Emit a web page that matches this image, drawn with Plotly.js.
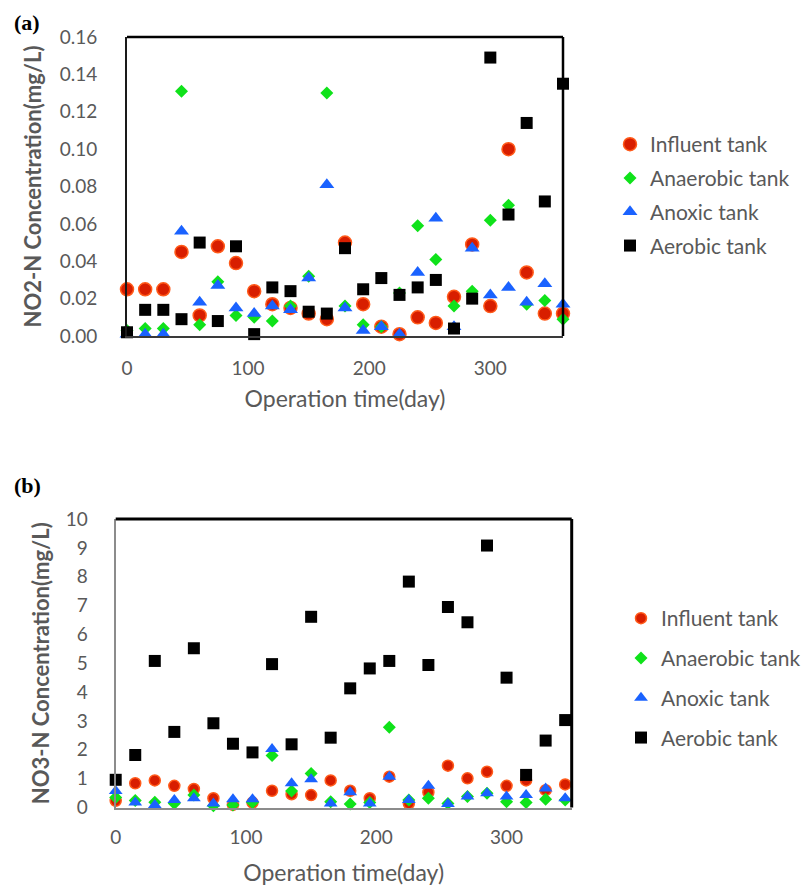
<!DOCTYPE html>
<html>
<head>
<meta charset="utf-8">
<script src="https://cdn.plot.ly/plotly-3.0.1.min.js"></script>
<style>html,body{margin:0;padding:0;background:#fff;}#chart{width:804px;height:890px;}</style>
</head>
<body>
<div id="chart"></div>
<script>
// ---------- Data ----------
var seriesNames = ["Influent tank", "Anaerobic tank", "Anoxic tank", "Aerobic tank"];

// Panel (a): NO2-N, sampled every 15 days, day 0 .. 360
var daysA = [0,15,30,45,60,75,90,105,120,135,150,165,180,195,210,225,240,255,270,285,300,315,330,345,360];
var no2Influent  = [0.025,0.025,0.025,0.045,0.011,0.048,0.039,0.024,0.017,0.015,0.012,0.009,0.050,0.017,0.005,0.001,0.010,0.007,0.021,0.049,0.016,0.100,0.034,0.012,0.012];
var no2Anaerobic = [0.003,0.004,0.004,0.131,0.006,0.029,0.011,0.010,0.008,0.016,0.032,0.130,0.016,0.006,0.005,0.023,0.059,0.041,0.016,0.024,0.062,0.070,0.017,0.019,0.009];
var no2Anoxic    = [0.001,0.001,0.001,0.056,0.018,0.027,0.015,0.012,0.016,0.014,0.031,0.081,0.015,0.003,0.005,0.001,0.034,0.063,0.005,0.047,0.022,0.026,0.018,0.028,0.017];
var no2Aerobic   = [0.002,0.014,0.014,0.009,0.050,0.008,0.048,0.001,0.026,0.024,0.013,0.012,0.047,0.025,0.031,0.022,0.026,0.030,0.004,0.020,0.149,0.065,0.114,0.072,0.135];

// Panel (b): NO3-N, sampled every 15 days, day 0 .. 345
var daysB = [0,15,30,45,60,75,90,105,120,135,150,165,180,195,210,225,240,255,270,285,300,315,330,345];
var no3Influent  = [0.23,0.84,0.94,0.75,0.64,0.32,0.09,0.17,0.58,0.46,0.43,0.94,0.58,0.32,1.07,0.14,0.53,1.45,1.01,1.24,0.75,0.94,0.60,0.80];
var no3Anaerobic = [0.35,0.24,0.18,0.14,0.43,0.06,0.09,0.17,1.80,0.57,1.18,0.20,0.12,0.17,2.78,0.26,0.32,0.14,0.38,0.49,0.20,0.17,0.29,0.26];
var no3Anoxic    = [0.57,0.17,0.09,0.26,0.32,0.14,0.29,0.29,2.03,0.84,0.98,0.14,0.53,0.14,1.07,0.26,0.75,0.12,0.38,0.49,0.38,0.43,0.66,0.32];
var no3Aerobic   = [0.96,1.82,5.08,2.62,5.52,2.92,2.21,1.91,4.97,2.19,6.61,2.42,4.13,4.82,5.08,7.83,4.94,6.95,6.42,9.08,4.50,1.13,2.32,3.03];

var xTicksA = [0,100,200,300];
var xTicksB = [0,100,200,300];
var yTicksA = [0,0.02,0.04,0.06,0.08,0.10,0.12,0.14,0.16];
var yTicksB = [0,1,2,3,4,5,6,7,8,9,10];

// ---------- Styles ----------
var W = 804, H = 890;
var txt = '#595959';
var FONT = 'Lato, "Open Sans", sans-serif';
var styleA = [
  {symbol:'circle', size:13, color:'#d81e00', line:{color:'#ff5a1a', width:1.5}},
  {symbol:'diamond', size:10, color:'#0fe21a', line:{color:'#0fe21a', width:0}},
  {symbol:'triangle-up', size:13, color:'#1a62ff', line:{color:'#1a62ff', width:0}},
  {symbol:'square', size:12, color:'#000000', line:{color:'#000000', width:0}}
];
var styleB = [
  {symbol:'circle', size:11, color:'#d81e00', line:{color:'#ff5a1a', width:1.5}},
  {symbol:'diamond', size:10, color:'#0fe21a', line:{color:'#0fe21a', width:0}},
  {symbol:'triangle-up', size:12, color:'#1a62ff', line:{color:'#1a62ff', width:0}},
  {symbol:'square', size:12, color:'#000000', line:{color:'#000000', width:0}}
];

var dataA = [no2Influent, no2Anaerobic, no2Anoxic, no2Aerobic];
var dataB = [no3Influent, no3Anaerobic, no3Anoxic, no3Aerobic];
var traces = [];
for (var i = 0; i < 4; i++) {
  traces.push({
    type:'scatter', mode:'markers', x:daysA, y:dataA[i], name:seriesNames[i],
    xaxis:'x', yaxis:'y', legend:'legend', legendgroup:'a'+i, cliponaxis:false,
    marker:styleA[i]
  });
}
for (var j = 0; j < 4; j++) {
  traces.push({
    type:'scatter', mode:'markers', x:daysB, y:dataB[j], name:seriesNames[j],
    xaxis:'x2', yaxis:'y2', legend:'legend2', legendgroup:'b'+j, cliponaxis:false,
    marker:styleB[j]
  });
}

function px(x){return x/W;}
function py(y){return 1 - y/H;}

var axFont = {family:FONT, size:19, color:txt};
var xTitleFont = {family:FONT, size:23, color:txt};
var yTitleFont = {family:FONT, size:22, color:txt, weight:'bold'};
var legFont = {family:FONT, size:21, color:txt};
var layout = {
  width:W, height:H,
  margin:{l:0,r:0,t:0,b:0, autoexpand:false},
  paper_bgcolor:'#ffffff', plot_bgcolor:'#ffffff',
  font:{family:FONT, color:txt},
  showlegend:true,
  xaxis:{
    domain:[px(127), px(563)], range:[0,360], anchor:'y', automargin:false,
    tickvals:xTicksA, ticktext:xTicksA.map(String), tickfont:axFont,
    ticks:'outside', ticklen:14, tickcolor:'rgba(0,0,0,0)',
    showgrid:false, zeroline:false, showline:true, linecolor:'#3a3a3a', linewidth:2,
    title:{text:'Operation time(day)', font:xTitleFont, standoff:13}
  },
  yaxis:{
    domain:[py(336), py(37)], range:[0,0.16], anchor:'x', automargin:false,
    tickvals:yTicksA, ticktext:yTicksA.map(function(v){return v.toFixed(2);}), tickfont:axFont,
    ticks:'outside', ticklen:24, tickcolor:'rgba(0,0,0,0)',
    showgrid:false, zeroline:false, showline:true, linecolor:'#1a1a1a', linewidth:2,
    title:{text:'NO2-N Concentration(mg/L)', font:yTitleFont, standoff:12}
  },
  xaxis2:{
    domain:[px(115.7), px(571.7)], range:[0,350], anchor:'y2', automargin:false,
    tickvals:xTicksB, ticktext:xTicksB.map(String), tickfont:axFont,
    ticks:'outside', ticklen:12, tickcolor:'rgba(0,0,0,0)',
    showgrid:false, zeroline:false, showline:true, linecolor:'#8c8c8c', linewidth:2,
    title:{text:'Operation time(day)', font:xTitleFont, standoff:18}
  },
  yaxis2:{
    domain:[py(807.5), py(519)], range:[0,10], anchor:'x2', automargin:false,
    tickvals:yTicksB, ticktext:yTicksB.map(String), tickfont:axFont,
    ticks:'outside', ticklen:22, tickcolor:'rgba(0,0,0,0)',
    showgrid:false, zeroline:false, showline:true, linecolor:'#8c8c8c', linewidth:2,
    title:{text:'NO3-N Concentration(mg/L)', font:yTitleFont, standoff:10}
  },
  legend:{
    x:px(610), y:py(124), xanchor:'left', yanchor:'top',
    font:legFont, bgcolor:'rgba(0,0,0,0)', borderwidth:0,
    traceorder:'grouped', tracegroupgap:3.5
  },
  legend2:{
    x:px(621), y:py(598), xanchor:'left', yanchor:'top',
    font:legFont, bgcolor:'rgba(0,0,0,0)', borderwidth:0,
    traceorder:'grouped', tracegroupgap:9.5
  },
  shapes:[
    // panel (a) top and right frame
    {type:'line', xref:'paper', yref:'paper', x0:px(127), x1:px(563), y0:py(37), y1:py(37), line:{color:'#000', width:2.5}},
    {type:'line', xref:'paper', yref:'paper', x0:px(563), x1:px(563), y0:py(37), y1:py(336), line:{color:'#000', width:2.5}},
    // panel (b) top and right frame
    {type:'line', xref:'paper', yref:'paper', x0:px(115.7), x1:px(571.7), y0:py(519), y1:py(519), line:{color:'#000', width:3}},
    {type:'line', xref:'paper', yref:'paper', x0:px(571.7), x1:px(571.7), y0:py(519), y1:py(807.5), line:{color:'#000', width:3}}
  ],
  annotations:[
    {text:'<b>(a)</b>', xref:'paper', yref:'paper', x:px(12), y:py(8), xanchor:'left', yanchor:'top', showarrow:false,
     font:{family:'"Liberation Serif", "DejaVu Serif", serif', size:22, color:'#000'}},
    {text:'<b>(b)</b>', xref:'paper', yref:'paper', x:px(12), y:py(471), xanchor:'left', yanchor:'top', showarrow:false,
     font:{family:'"Liberation Serif", "DejaVu Serif", serif', size:22, color:'#000'}}
  ]
};

Plotly.newPlot('chart', traces, layout, {displayModeBar:false, staticPlot:true});
</script>
</body>
</html>
